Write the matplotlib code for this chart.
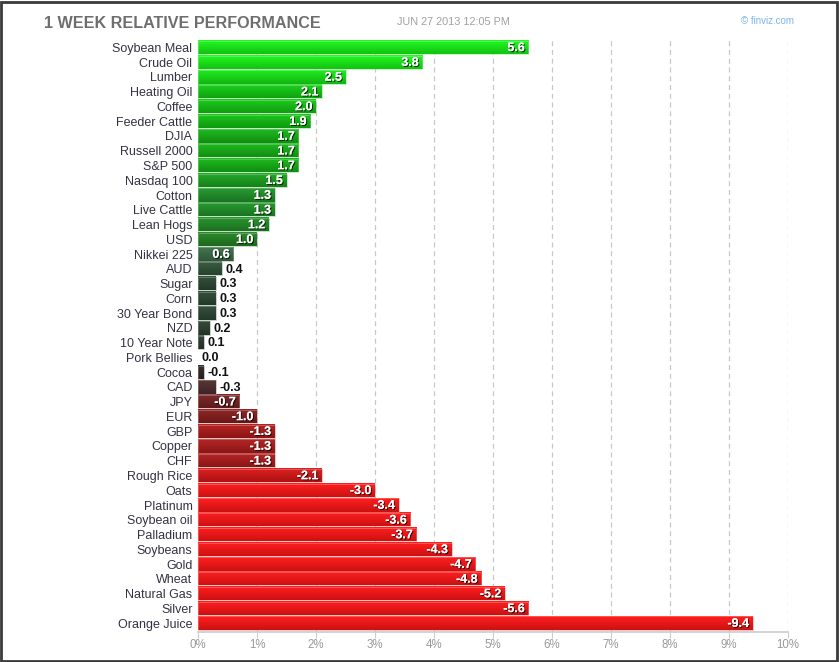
import numpy as np
import matplotlib
matplotlib.use("Agg")
import matplotlib.pyplot as plt
import matplotlib.patheffects as pe
from matplotlib.patches import Rectangle

plt.rcParams['font.family'] = ['Liberation Sans', 'DejaVu Sans']

names = ["Soybean Meal", "Crude Oil", "Lumber", "Heating Oil", "Coffee", "Feeder Cattle",
         "DJIA", "Russell 2000", "S&P 500", "Nasdaq 100", "Cotton", "Live Cattle",
         "Lean Hogs", "USD", "Nikkei 225", "AUD", "Sugar", "Corn", "30 Year Bond", "NZD",
         "10 Year Note", "Pork Bellies", "Cocoa", "CAD", "JPY", "EUR", "GBP", "Copper",
         "CHF", "Rough Rice", "Oats", "Platinum", "Soybean oil", "Palladium", "Soybeans",
         "Gold", "Wheat", "Natural Gas", "Silver", "Orange Juice"]
values = [5.6, 3.8, 2.5, 2.1, 2.0, 1.9, 1.7, 1.7, 1.7, 1.5, 1.3, 1.3, 1.2, 1.0, 0.6,
          0.4, 0.3, 0.3, 0.3, 0.2, 0.1, 0.0, -0.1, -0.3, -0.7, -1.0, -1.3, -1.3, -1.3,
          -2.1, -3.0, -3.4, -3.6, -3.7, -4.3, -4.7, -4.8, -5.2, -5.6, -9.4]
tick_labels = ["0%", "1%", "2%", "3%", "4%", "5%", "6%", "7%", "8%", "9%", "10%"]

# colour scale anchors (value -> rgb)
c_vals = [-3.0, -2.0, -1.3, -1.0, -0.7, -0.3, -0.1, 0.1, 0.3, 0.6, 1.0, 1.3, 1.7, 2.0, 2.5, 3.0]
c_rgb = np.array([
    (0xf4, 0x14, 0x14), (0xc8, 0x16, 0x16), (0xa6, 0x1a, 0x1a), (0x80, 0x1c, 0x1c),
    (0x70, 0x20, 0x20), (0x4c, 0x2a, 0x2c), (0x2e, 0x24, 0x24), (0x2a, 0x38, 0x2e),
    (0x2a, 0x44, 0x30), (0x38, 0x68, 0x42), (0x22, 0x7c, 0x22), (0x1e, 0x8c, 0x26),
    (0x14, 0xaa, 0x14), (0x12, 0xbc, 0x12), (0x14, 0xda, 0x14), (0x16, 0xe8, 0x16)]) / 255.0


def col(v):
    return tuple(np.interp(v, c_vals, c_rgb[:, k]) for k in range(3))


W, H = 839, 662
fig = plt.figure(figsize=(W / 100, H / 100), dpi=100)
ax = fig.add_axes([198 / W, 1 - 632 / H, (788 - 198) / W, (632 - 40) / H])

y = np.arange(len(names))
absv = np.abs(values)
ax.set_xlim(0, 10)
ax.set_ylim(len(names) - 0.4, -0.5)

for x in range(1, 11):
    ax.axvline(x, color='#c8c8c8', lw=0.9, ls=(0, (4, 3)), zorder=0)

bars = ax.barh(y, absv, height=0.9, color=[col(v) for v in values], zorder=2,
               edgecolor='none')

# vertical gradient on each bar
for b, v in zip(bars, values):
    x0, y0 = b.get_x(), b.get_y()
    w, h = b.get_width(), b.get_height()
    if w <= 0:
        continue
    c = np.array(col(v))
    top = np.clip(c * 1.03 + 0.04, 0, 1)
    bot = c * 0.84
    t = np.linspace(0, 1, 16)[:, None]
    grad = top * (1 - t) + bot * t
    img = np.repeat(grad[:, None, :], 2, axis=1)
    ax.imshow(img, extent=(x0, x0 + w, y0 + h, y0), aspect='auto', zorder=3,
              interpolation='bilinear')
    ax.add_patch(Rectangle((x0, y0), w, h, fill=False, ec=np.clip(c * 0.5 + 0.5, 0, 1),
                           lw=0.6, alpha=0.6, zorder=4))

ax.set_xlim(0, 10)
ax.set_ylim(len(names) - 0.4, -0.5)

shadow = [pe.withSimplePatchShadow(offset=(0.8, -0.8), shadow_rgbFace='black', alpha=0.7),
          pe.Normal()]
for yi, v, a in zip(y, values, absv):
    txt = f"{v:.1f}"
    if a >= 0.5:
        ax.text(a - 0.06, yi + 0.05, txt, ha='right', va='center', color='white',
                fontsize=9, fontweight='bold', zorder=5, path_effects=shadow)
    else:
        ax.text(a + 0.06, yi + 0.05, txt, ha='left', va='center', color='#111111',
                fontsize=9, fontweight='bold', zorder=5)

ax.set_yticks(y)
ax.set_yticklabels(names, fontsize=9, color='#333344')
ax.tick_params(axis='y', length=0, pad=4)
ax.set_xticks(range(11))
ax.set_xticklabels(tick_labels, fontsize=8.3, color='#999999')
ax.tick_params(axis='x', length=4, color='#cccccc', pad=1)
for s in ['top', 'right', 'left']:
    ax.spines[s].set_visible(False)
ax.spines['bottom'].set_color('#cccccc')
ax.spines['bottom'].set_linewidth(1.2)

fig.text(44 / W, 1 - 24 / H, "1 WEEK RELATIVE PERFORMANCE", fontsize=11.6,
         fontweight='bold', color='#6e6e6e', va='center', ha='left')
fig.text(397 / W, 1 - 22 / H, "JUN 27 2013 12:05 PM", fontsize=7.8, color='#a0a0a0',
         va='center', ha='left')
fig.text(741 / W, 1 - 21 / H, "\u00a9 finviz.com", fontsize=7, color='#7fb5e6',
         va='center', ha='left')

fig.patches.append(Rectangle((1 / W, 1 / H), (W - 3) / W, (H - 3) / H, fill=False,
                             ec='#3a3a3a', lw=2, transform=fig.transFigure, figure=fig))

fig.savefig("out.png", dpi=100)
